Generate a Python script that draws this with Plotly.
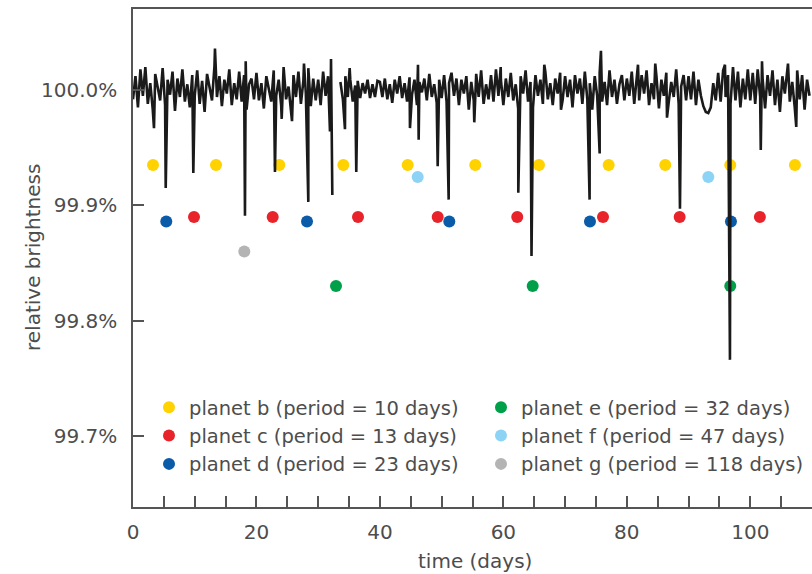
import plotly.graph_objects as go

# ---------------- data ----------------
# Light curve: regular cadence samples, deviation from 100 % in units of 0.001 %
cadence_start_day = 0.0
cadence_step_day = 0.4
flux_noise_milli = [
    -8, 12, -15, 18, -5, 20, -12, 6, -17, 14, 3, -9, 19, -13, 9, -4, 16, -18, 10, -6, 18, -10, 5, -15, 13,
    -5, 17, -12, 8, -19, 14, 2, -9, 21, -6, 12, -14, 9, -3, 18, -13, 6, -8, 16, -10, 13, -17, 5, 10, -8,
    15, -9, 6, -16, 12, 0, -10, 17, -5, 9, -13, 20, -8, 3, -17, 13, -6, 16, -12, 8, -3, 19, -14, 10, -9,
    9, -13, 16, -5, 12, -17, None, None, None, 7, -8, 12, -6, 9, -10, 4, 8, -7, 6, -3, 9, -7, 5, -6, 8,
    7, -6, 10, -8, 5, -11, 9, -3, 12, -7, 6, -10, 11, -4, 9, -13, 7, -2, 10, -9, 14, -6, 5, -11, 9,
    -7, 13, -10, 6, 15, -5, 10, -13, 9, -3, 12, -17, 7, -9, 14, -6, 17, -12, 5, -8, 13, -10, 18, -5, 9,
    -13, 10, -6, 15, -9, 5, -16, 12, -3, 17, -10, 7, -15, 13, -5, 9, -12, 16, -8, 6, -13, 10, -3, 15, -9,
    12, -6, 9, -15, 13, -3, 10, -12, 16, -8, 6, -17, 12, -5, 15, -10, 7, -13, 17, -6, 9, -12, 5, 13, -9,
    10, -5, 16, -12, 8, -9, 13, -3, 17, -13, 6, -8, 12, -16, 9, -5, 15, -10, 7, -6, 18, -12, 3, 13, -9,
    12, -8, 16, -13, 9, -5, -14, -19, -20, -15, 6, -9, 15, -10, 17, -6, 13, -12, 20, -9, 16, -15, 10, -8, 18,
    -9, 15, -12, 18, -6, 10, -16, 13, -5, 17, -13, 9, -19, 12, -3, 16, -10, 7, -15, 17, -8, 13, -17, 9, -5,
]

# Transit dips and isolated spikes (day, relative brightness %)
event_days = [3.40, 5.30, 9.77, 13.28, 18.14, 18.26, 23.00, 24.09, 25.76, 27.70,
              28.40, 31.91, 32.08, 32.29, 34.34, 35.10, 36.17, 44.87, 46.17, 46.28,
              49.36, 51.14, 55.29, 59.57, 62.42, 64.56, 66.63, 69.33, 73.97, 75.60,
              75.81, 81.81, 84.61, 86.51, 88.61, 95.90, 96.71, 101.70, 101.90, 106.11,
              107.45]
event_flux = [99.967, 99.915, 99.928, 100.036, 99.891, 100.025, 99.929, 99.975, 99.973, 100.023,
              99.903, 99.964, 100.027, 99.909, 99.966, 100.019, 99.929, 99.967, 100.022, 99.957,
              99.934, 99.905, 99.972, 100.020, 99.911, 99.856, 100.022, 99.983, 99.905, 99.945,
              100.034, 100.022, 100.023, 99.976, 99.897, 100.022, 99.766, 99.948, 100.025, 100.023,
              99.968]

# Transit markers for each planet
planet_names = ["planet b (period = 10 days)", "planet c (period = 13 days)",
                "planet d (period = 23 days)", "planet e (period = 32 days)",
                "planet f (period = 47 days)", "planet g (period = 118 days)"]
planet_colors = ["#FFD200", "#E8232A", "#0A5BA8", "#00A04B", "#8DD3F5", "#B4B4B4"]
planet_levels = [99.935, 99.890, 99.886, 99.830, 99.9245, 99.860]
planet_b_days = [3.24, 13.45, 23.70, 34.07, 44.50, 55.45, 65.77, 77.06, 86.23, 96.76, 107.24]
planet_c_days = [9.88, 22.63, 36.45, 49.36, 62.25, 76.14, 88.56, 101.56]
planet_d_days = [5.39, 28.19, 51.24, 74.03, 96.87]
planet_e_days = [32.89, 64.75, 96.76]
planet_f_days = [46.12, 93.20]
planet_g_days = [18.03]
planet_days = [planet_b_days, planet_c_days, planet_d_days,
               planet_e_days, planet_f_days, planet_g_days]

x_tick_values = [0, 5, 10, 15, 20, 25, 30, 35, 40, 45, 50, 55, 60, 65, 70, 75, 80, 85, 90, 95, 100, 105]
x_tick_labels = ["0", "", "", "", "20", "", "", "", "40", "", "", "", "60", "", "", "", "80", "", "", "", "100", ""]
y_tick_values = [99.7, 99.8, 99.9, 100.0]
y_tick_labels = ["99.7%", "99.8%", "99.9%", "100.0%"]

# ---------------- build light curve ----------------
pts = []
for i, n in enumerate(flux_noise_milli):
    t = cadence_start_day + i * cadence_step_day
    pts.append((t, None if n is None else 100 + n / 1000.0))
for t, v in zip(event_days, event_flux):
    pts.append((t, v))
pts.sort(key=lambda p: p[0])
lc_t = [p[0] for p in pts]
lc_v = [p[1] for p in pts]

FONT = "DejaVu Sans"
TXT = "#4d4d4d"
AX = "#555555"

fig = go.Figure()

for k, (name, col, lvl, days) in enumerate(zip(planet_names, planet_colors, planet_levels, planet_days)):
    fig.add_trace(go.Scatter(
        x=days, y=[lvl] * len(days), mode="markers", name=name,
        marker=dict(size=12, color=col, line=dict(width=0)),
        legend="legend" if k < 3 else "legend2",
        hoverinfo="skip",
    ))

fig.add_trace(go.Scatter(
    x=lc_t, y=lc_v, mode="lines", line=dict(color="#1a1a1a", width=2.6),
    showlegend=False, connectgaps=False, hoverinfo="skip",
))

legend_common = dict(
    font=dict(family=FONT, size=19.5, color=TXT),
    bgcolor="rgba(0,0,0,0)", borderwidth=0,
    xanchor="left", yanchor="top", orientation="v",
    traceorder="normal", tracegroupgap=0,
    itemsizing="trace",
)

fig.update_layout(
    width=812, height=574,
    margin=dict(l=133, r=0, t=9, b=67, autoexpand=False),
    paper_bgcolor="white", plot_bgcolor="white",
    font=dict(family=FONT, size=20, color=TXT),
    showlegend=True,
    legend=dict(x=(149 - 133) / 679, y=(507 - 388) / 498, **legend_common),
    legend2=dict(x=(481 - 133) / 679, y=(507 - 388) / 498, **legend_common),
    xaxis=dict(
        range=[0, 110], showgrid=False, zeroline=False,
        showline=True, mirror=True, linecolor=AX, linewidth=1.5,
        tickmode="array", tickvals=x_tick_values, ticktext=x_tick_labels,
        ticks="inside", ticklen=11, tickwidth=1.5, tickcolor=AX,
        tickfont=dict(family=FONT, size=20, color=TXT),
        ticklabelstandoff=6, automargin=False,
    ),
    yaxis=dict(
        range=[99.6384, 100.0703], showgrid=False, zeroline=False,
        showline=True, mirror=False, linecolor=AX, linewidth=1.5,
        tickmode="array", tickvals=y_tick_values, ticktext=y_tick_labels,
        ticks="inside", ticklen=11, tickwidth=1.5, tickcolor=AX,
        tickfont=dict(family=FONT, size=20, color=TXT),
        ticklabelstandoff=10, automargin=False,
    ),
    annotations=[
        dict(text="relative brightness", xref="paper", yref="paper",
             x=(33 - 133) / 679, y=0.5, xanchor="center", yanchor="middle",
             textangle=-90, showarrow=False,
             font=dict(family=FONT, size=20, color=TXT)),
        dict(text="time (days)", xref="paper", yref="paper",
             x=(475 - 133) / 679, y=(507 - 561) / 498, xanchor="center", yanchor="middle",
             showarrow=False, font=dict(family=FONT, size=20, color=TXT)),
    ],
)

fig.write_html(
    "out.html",
    config={"displayModeBar": False},
    post_script="document.body.style.margin='0';document.body.style.padding='0';"
                "document.body.style.overflow='hidden';",
)
